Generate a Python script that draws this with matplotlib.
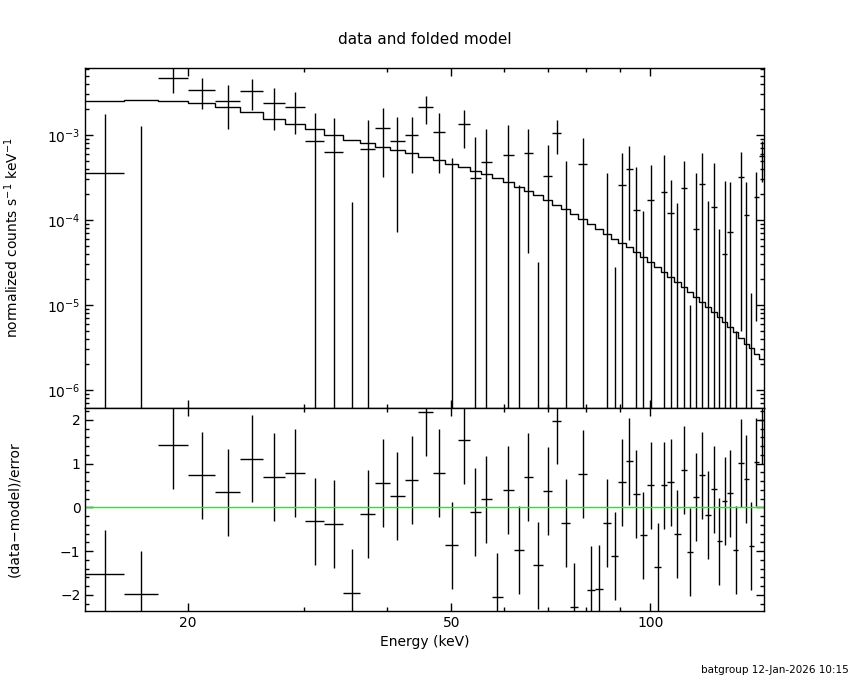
import numpy as np
import matplotlib

matplotlib.use("Agg")
import matplotlib.pyplot as plt
from matplotlib.ticker import FixedLocator, FixedFormatter, MultipleLocator, LogLocator

# energy bin edges (keV)
edges = np.array([
    14.0, 16.0, 18.0, 20.0, 22.0, 24.0, 26.0, 28.0, 30.1, 32.1,
    34.3, 36.4, 38.4, 40.4, 42.5, 44.6, 46.9, 49.0, 51.2, 53.3,
    55.4, 57.6, 59.8, 62.2, 64.4, 66.4, 68.8, 71.0, 73.3, 75.6,
    77.7, 80.2, 82.4, 84.7, 87.1, 89.4, 91.8, 94.1, 96.4, 98.8,
    101.3, 103.8, 106.1, 108.6, 111.1, 113.5, 116.0, 118.3, 120.8, 123.3,
    125.9, 128.3, 130.7, 133.3, 135.8, 138.3, 140.7, 143.2, 145.9, 148.6,
])

# folded model (counts s^-1 keV^-1)
model = np.array([
    2.49e-3, 2.60e-3, 2.53e-3, 2.38e-3, 2.15e-3, 1.85e-3, 1.56e-3, 1.35e-3, 1.17e-3, 9.92e-4,
    8.73e-4, 7.99e-4, 7.28e-4, 6.61e-4, 6.09e-4, 5.56e-4, 5.08e-4, 4.56e-4, 4.17e-4, 3.80e-4,
    3.45e-4, 3.12e-4, 2.78e-4, 2.46e-4, 2.22e-4, 1.96e-4, 1.72e-4, 1.51e-4, 1.34e-4, 1.17e-4,
    1.02e-4, 8.97e-5, 7.77e-5, 6.79e-5, 5.98e-5, 5.36e-5, 4.77e-5, 4.17e-5, 3.64e-5, 3.18e-5,
    2.78e-5, 2.42e-5, 2.12e-5, 1.85e-5, 1.62e-5, 1.41e-5, 1.23e-5, 1.08e-5, 9.39e-6, 8.20e-6,
    7.17e-6, 6.26e-6, 5.47e-6, 4.77e-6, 4.06e-6, 3.51e-6, 3.10e-6, 2.67e-6, 2.32e-6,
])

# data rate and 1-sigma error
rate = np.array([
    3.54e-4, -6.1e-5, 4.65e-3, 3.36e-3, 2.53e-3, 3.27e-3, 2.36e-3, 2.12e-3, 8.50e-4, 6.31e-4,
    -5.89e-4, 6.79e-4, 1.199e-3, 8.50e-4, 9.92e-4, 2.12e-3, 1.084e-3, -5.3e-5, 1.336e-3, 3.095e-4,
    4.77e-4, -8.08e-4, 5.77e-4, -3.44e-4, 6.09e-4, -4.69e-4, 3.27e-4, 1.056e-3, -7.0e-5, -9.02e-4,
    4.52e-4, -7.62e-4, -7.45e-4, -9.6e-5, -2.52e-4, 2.56e-4, 3.98e-4, 1.30e-4, -1.26e-4, 1.705e-4,
    -3.15e-4, 2.12e-4, 1.199e-4, -2.02e-4, 2.36e-4, -2.2e-4, 7.77e-5, 2.63e-4, -2.43e-5, 1.422e-4,
    -2.42e-4, 3.98e-5, 7.17e-5, -2.41e-4, 3.18e-4, 1.136e-4, -8.6e-5, 1.865e-4, 5.6e-4,
])
rate_err = np.array([
    1.41e-3, 1.337e-3, 1.5e-3, 1.32e-3, 1.34e-3, 1.29e-3, 1.21e-3, 1.09e-3, 9.65e-4, 9.54e-4,
    7.52e-4, 8.22e-4, 8.79e-4, 7.78e-4, 6.36e-4, 7.56e-4, 7.31e-4, 5.85e-4, 6.32e-4, 6.37e-4,
    7.0e-4, 5.5e-4, 7.34e-4, 6.0e-4, 5.68e-4, 5.01e-4, 4.36e-4, 4.65e-4, 5.68e-4, 4.5e-4,
    4.7e-4, 4.5e-4, 4.4e-4, 4.56e-4, 2.8e-4, 3.58e-4, 3.4e-4, 2.9e-4, 2.54e-4, 2.73e-4,
    2.5e-4, 3.7e-4, 1.76e-4, 3.6e-4, 2.58e-4, 2.3e-4, 2.79e-4, 3.51e-4, 1.916e-4, 3.26e-4,
    3.2e-4, 2.48e-4, 2.08e-4, 2.46e-4, 3.13e-4, 1.66e-4, 1.0e-4, 1.8e-4, 2.8e-4,
])

# (data-model)/error
resid = np.array([
    -1.53, -1.99, 1.42, 0.73, 0.34, 1.11, 0.69, 0.78, -0.32, -0.38,
    -1.95, -0.15, 0.55, 0.26, 0.62, 2.17, 0.78, -0.87, 1.53, -0.11,
    0.18, -2.04, 0.39, -0.98, 0.69, -1.33, 0.37, 1.98, -0.36, -2.27,
    0.76, -1.89, -1.87, -0.36, -1.11, 0.57, 1.05, 0.30, -0.64, 0.50,
    -1.37, 0.50, 0.57, -0.61, 0.85, -1.02, 0.24, 0.73, -0.18, 0.41,
    -0.78, 0.14, 0.32, -0.98, 1.01, 0.65, -0.89, 1.04, 2.00,
])

centers = 0.5 * (edges[:-1] + edges[1:])

plt.rcParams.update({
    "font.family": "DejaVu Sans",
    "font.size": 10,
    "xtick.direction": "in",
    "ytick.direction": "in",
    "xtick.top": True,
    "ytick.right": True,
    "axes.linewidth": 1.0,
})

fig = plt.figure(figsize=(8.5, 6.8), dpi=100)
ax1 = fig.add_axes([0.1004, 0.4, 0.7988, 0.5])
ax2 = fig.add_axes([0.1004, 0.1015, 0.7988, 0.2985], sharex=ax1)

# top panel: data and folded model
ax1.set_xscale("log")
ax1.set_yscale("log", nonpositive="clip")
lo = np.clip(rate - rate_err, 1e-12, None)
hi = np.clip(rate + rate_err, 1e-12, None)
ypt = np.clip(rate, 1e-12, None)
ax1.vlines(centers, lo, hi, color="black", lw=1)
ax1.hlines(ypt, edges[:-1], edges[1:], color="black", lw=1)
ax1.stairs(model, edges, baseline=None, color="black", lw=1)
ax1.set_xlim(14.0, 148.6)
ax1.set_ylim(6.14e-7, 6.14e-3)
ax1.set_ylabel(r"normalized counts s$^{-1}$ keV$^{-1}$", fontsize=10)
ax1.set_title("data and folded model", fontsize=11, pad=17)
ax1.yaxis.set_minor_locator(LogLocator(base=10, subs=np.arange(2, 10)))
ax1.tick_params(axis="both", which="major", length=6, width=1)
ax1.tick_params(axis="both", which="minor", length=3, width=1)
ax1.tick_params(axis="x", labelbottom=False)

# bottom panel: residuals
ax2.vlines(centers, resid - 1.0, resid + 1.0, color="black", lw=1)
ax2.hlines(resid, edges[:-1], edges[1:], color="black", lw=1)
ax2.axhline(0, color="#00ff00", lw=1)
ax2.set_ylim(-2.37, 2.27)
ax2.yaxis.set_major_locator(MultipleLocator(1))
ax2.yaxis.set_minor_locator(MultipleLocator(0.2))
ax2.set_ylabel("(data\u2212model)/error", fontsize=10)
ax2.set_xlabel("Energy (keV)", fontsize=10)

ax2.xaxis.set_major_locator(FixedLocator([20, 50, 100]))
ax2.xaxis.set_major_formatter(FixedFormatter(["20", "50", "100"]))
ax2.xaxis.set_minor_locator(FixedLocator([30, 40, 60, 70, 80, 90]))
ax2.xaxis.set_minor_formatter(FixedFormatter([]))
ax2.tick_params(axis="both", which="major", length=6, width=1)
ax2.tick_params(axis="both", which="minor", length=3, width=1)

for ax in (ax1, ax2):
    ax.yaxis.set_label_coords(-0.095, 0.5)

fig.text(0.998, 0.008, "batgroup 12-Jan-2026 10:15", ha="right", va="bottom", fontsize=7.5)

fig.savefig("out.png", dpi=100)
